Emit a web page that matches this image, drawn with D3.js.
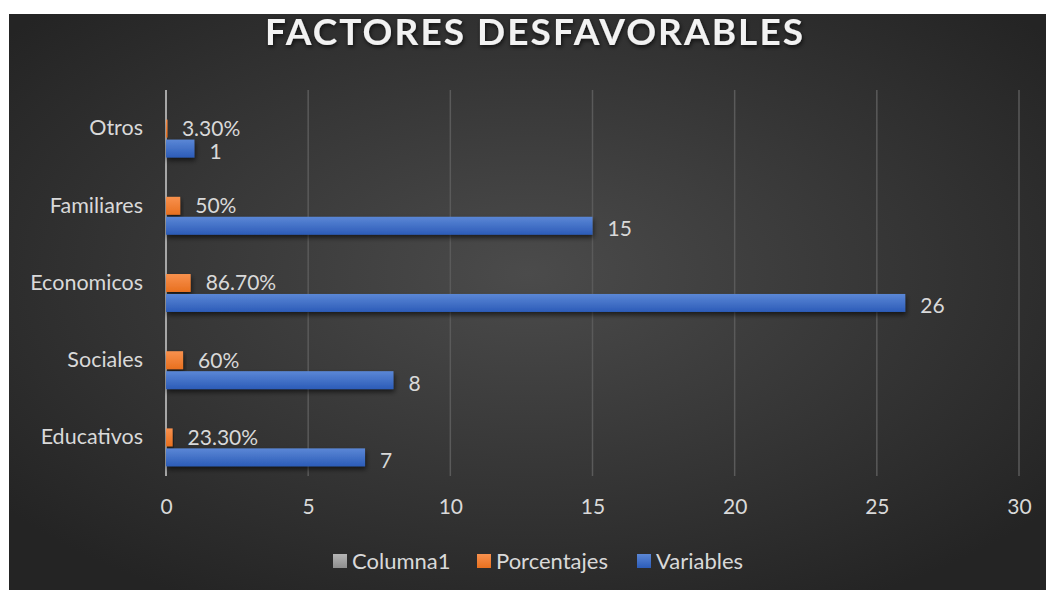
<!DOCTYPE html>
<html>
<head>
<meta charset="utf-8">
<script src="https://cdn.jsdelivr.net/npm/d3@7"></script>
<style>
  body { margin: 0; background: #fff; }
  svg { display: block; }
  text { font-family: Lato, "Open Sans", sans-serif; }
</style>
</head>
<body>
<div id="chart"></div>
<script>
const categories = ['Otros', 'Familiares', 'Economicos', 'Sociales', 'Educativos'];
const series = ['Columna1', 'Porcentajes', 'Variables'];
const variables = [1, 15, 26, 8, 7];
const porcentajes = [0.033, 0.5, 0.867, 0.6, 0.233];
const porcentajeLabels = ['3.30%', '50%', '86.70%', '60%', '23.30%'];
const xTicks = [0, 5, 10, 15, 20, 25, 30];

const width = 1048,
      height = 590,
      fontSize = 21;

const svg = d3.select('#chart')
              .append('svg')
              .attr('width', width)
              .attr('height', height);

const defs = svg.append('defs');

const bg = defs.append('radialGradient')
               .attr('id', 'bg')
               .attr('cx', '50%').attr('cy', '45%').attr('r', '65%');
bg.append('stop').attr('offset', '0%').attr('stop-color', '#4b4b4b');
bg.append('stop').attr('offset', '100%').attr('stop-color', '#242424');

function barGrad(id, top, bottom) {
  const g = defs.append('linearGradient')
                .attr('id', id)
                .attr('x1', 0).attr('y1', 0).attr('x2', 0).attr('y2', 1);
  g.append('stop').attr('offset', '0%').attr('stop-color', top);
  g.append('stop').attr('offset', '100%').attr('stop-color', bottom);
}
barGrad('blue', '#5b87d6', '#2c5cb8');
barGrad('orange', '#f8914e', '#e8701f');
barGrad('gray', '#b5b5b5', '#8e8e8e');

const shadow = defs.append('filter')
                   .attr('id', 'shadow')
                   .attr('x', '-10%').attr('y', '-30%')
                   .attr('width', '130%').attr('height', '190%');
shadow.append('feDropShadow')
      .attr('dx', 1).attr('dy', 3).attr('stdDeviation', 2.5)
      .attr('flood-color', '#000').attr('flood-opacity', 0.6);

const titleShadow = defs.append('filter').attr('id', 'tshadow');
titleShadow.append('feDropShadow')
           .attr('dx', 1).attr('dy', 2).attr('stdDeviation', 2)
           .attr('flood-color', '#000').attr('flood-opacity', 0.7);

svg.append('rect')
   .attr('x', 9).attr('y', 14)
   .attr('width', 1037).attr('height', 576)
   .attr('fill', 'url(#bg)');

// title
svg.append('text')
   .attr('x', 534)
   .attr('y', 45)
   .attr('text-anchor', 'middle')
   .attr('fill', '#f2f2f2')
   .attr('font-size', 37)
   .attr('font-weight', 'bold')
   .attr('textLength', 538)
   .attr('lengthAdjust', 'spacing')
   .attr('filter', 'url(#tshadow)')
   .text('FACTORES DESFAVORABLES');

const margin = { left: 166, right: 1019, top: 90, bottom: 476 };

const xScale = d3.scaleLinear()
                 .domain([0, 30])
                 .range([margin.left, margin.right]);

const yScale = d3.scaleBand()
                 .domain(categories)
                 .range([margin.top, margin.bottom])
                 .paddingInner(0.25)
                 .paddingOuter(0.125);

const sScale = d3.scaleBand()
                 .domain(series)
                 .range([0, yScale.bandwidth()])
                 .paddingInner(0.1);

// gridlines
svg.append('g')
   .selectAll('line')
   .data(xTicks.slice(1))
   .enter()
   .append('line')
   .attr('x1', d => xScale(d)).attr('x2', d => xScale(d))
   .attr('y1', margin.top).attr('y2', margin.bottom)
   .attr('stroke', '#5a5a5a')
   .attr('stroke-width', 1.5);

// x axis labels
const xAxis = d3.axisBottom(xScale).tickValues(xTicks).tickSize(0).tickPadding(0);
const xAxisGroup = svg.append('g')
                      .attr('transform', 'translate(0, 499)')
                      .call(xAxis);
xAxisGroup.select('.domain').remove();
xAxisGroup.selectAll('text')
          .attr('fill', '#d9d9d9')
          .attr('font-size', fontSize)
          .attr('font-family', 'Lato, sans-serif');

// y axis labels, centred on the Porcentajes slot like the reference
const yAxis = d3.axisLeft(yScale).tickSize(0).tickPadding(0);
const yAxisGroup = svg.append('g')
                      .attr('transform', 'translate(143, 0)')
                      .call(yAxis);
yAxisGroup.select('.domain').remove();
yAxisGroup.selectAll('text')
          .attr('fill', '#d9d9d9')
          .attr('font-size', 21.5)
          .attr('font-family', 'Lato, sans-serif')
          .attr('dy', '0.32em')
          .attr('y', sScale('Porcentajes') + sScale.bandwidth() / 2 - yScale.bandwidth() / 2);

const rows = categories.map((c, i) => ({ cat: c, v: variables[i], p: porcentajes[i], pl: porcentajeLabels[i] }));

// zero axis line
svg.append('line')
   .attr('x1', xScale(0)).attr('x2', xScale(0))
   .attr('y1', margin.top).attr('y2', margin.bottom)
   .attr('stroke', '#a6a6a6')
   .attr('stroke-width', 2);

// bars
const barsG = svg.append('g');
barsG.selectAll('.pbar')
     .data(rows)
     .enter()
     .append('rect')
     .attr('x', xScale(0))
     .attr('y', d => yScale(d.cat) + sScale('Porcentajes'))
     .attr('width', d => Math.max(xScale(d.p) - xScale(0), 1.5))
     .attr('height', sScale.bandwidth())
     .attr('fill', 'url(#orange)')
     .attr('filter', 'url(#shadow)');

barsG.selectAll('.vbar')
     .data(rows)
     .enter()
     .append('rect')
     .attr('x', xScale(0))
     .attr('y', d => yScale(d.cat) + sScale('Variables'))
     .attr('width', d => xScale(d.v) - xScale(0))
     .attr('height', sScale.bandwidth())
     .attr('fill', 'url(#blue)')
     .attr('filter', 'url(#shadow)');

// data labels
svg.append('g')
   .selectAll('text')
   .data(rows)
   .enter()
   .append('text')
   .attr('x', d => xScale(d.p) + 15)
   .attr('y', d => yScale(d.cat) + sScale('Porcentajes') + sScale.bandwidth() / 2)
   .attr('dy', '0.35em')
   .attr('fill', '#d9d9d9')
   .attr('font-size', fontSize)
   .text(d => d.pl);

svg.append('g')
   .selectAll('text')
   .data(rows)
   .enter()
   .append('text')
   .attr('x', d => xScale(d.v) + 15)
   .attr('y', d => yScale(d.cat) + sScale('Variables') + sScale.bandwidth() / 2 + 3)
   .attr('dy', '0.35em')
   .attr('fill', '#d9d9d9')
   .attr('font-size', fontSize)
   .text(d => d.v);

// legend
const legendItems = [
  { name: 'Columna1', fill: 'url(#gray)', x: 333 },
  { name: 'Porcentajes', fill: 'url(#orange)', x: 477 },
  { name: 'Variables', fill: 'url(#blue)', x: 637 }
];
const legend = svg.append('g');
legend.selectAll('rect')
      .data(legendItems)
      .enter()
      .append('rect')
      .attr('x', d => d.x)
      .attr('y', 554)
      .attr('width', 14)
      .attr('height', 14)
      .attr('fill', d => d.fill);
legend.selectAll('text')
      .data(legendItems)
      .enter()
      .append('text')
      .attr('x', d => d.x + 19)
      .attr('y', 561)
      .attr('dy', '0.35em')
      .attr('fill', '#d9d9d9')
      .attr('font-size', 22)
      .text(d => d.name);
</script>
</body>
</html>
